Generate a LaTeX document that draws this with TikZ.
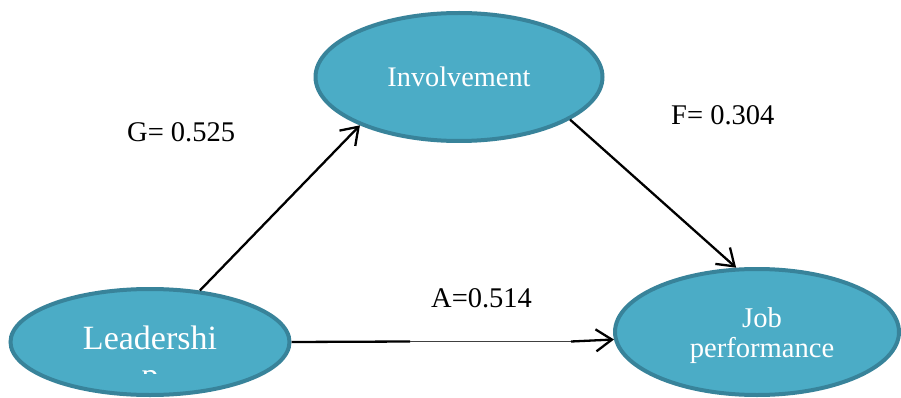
\documentclass[tikz,border=0pt]{standalone}
\usepackage{fontspec}
\setmainfont{Liberation Serif}
\usetikzlibrary{shapes.geometric,arrows.meta}
\definecolor{fillc}{HTML}{4BACC6}
\definecolor{edgec}{HTML}{38839A}
\begin{document}
\begin{tikzpicture}[x=1pt,y=-1pt,
  oval/.style={ellipse,draw=edgec,fill=fillc,line width=4pt,inner sep=0pt},
  intext/.style={text=white,inner sep=0pt,anchor=base},
  lbl/.style={font=\fontsize{28.5}{30}\selectfont,anchor=base west,inner sep=0pt},
  conn/.style={line width=2.3pt},
  tip/.style={-{Straight Barb[length=16pt,width=22pt,line width=2.3pt]}}]
\clip (0,0) rectangle (901,398);
% ellipses
\node[oval,minimum width=287pt,minimum height=128pt,text=white,
  font=\fontsize{28.3}{30}\selectfont] (inv) at (459,77) {Involvement};
\node[oval,minimum width=279pt,minimum height=106pt] (lead) at (150,342) {};
\node[oval,minimum width=284pt,minimum height=126pt] (job) at (757,332) {};
% texts inside
\node[intext,font=\fontsize{34}{40}\selectfont] (leadtxt) at (150,349) {Leadershi};
\begin{scope}
  \clip (100,360) rectangle (200,373);
  \node[intext,font=\fontsize{34}{40}\selectfont] (leadp) at (150,386) {p};
\end{scope}
\node[intext,font=\fontsize{28.6}{30}\selectfont] (jobtxt) at (762,327) {Job};
\node[intext,font=\fontsize{28.6}{30}\selectfont] (perftxt) at (762,357.5) {performance};
% labels
\node[lbl] (g) at (127,142) {G= 0.525};
\node[lbl] (f) at (671,125) {F= 0.304};
\node[lbl] (a) at (431,307) {A=0.514};
% connectors
\coordinate (mA) at (410,341.5);
\coordinate (mB) at (571,341.5);
\draw[conn,tip] (lead) -- (inv.206.8);
\draw[conn,tip] (inv.339) -- (job.108.4);
\draw[conn] (lead.east) -- (mA);
\draw[line width=0.8pt,black!75] (mA) -- (mB);
\draw[conn,tip] (mB) -- (job.183.6);
\end{tikzpicture}
\end{document}
